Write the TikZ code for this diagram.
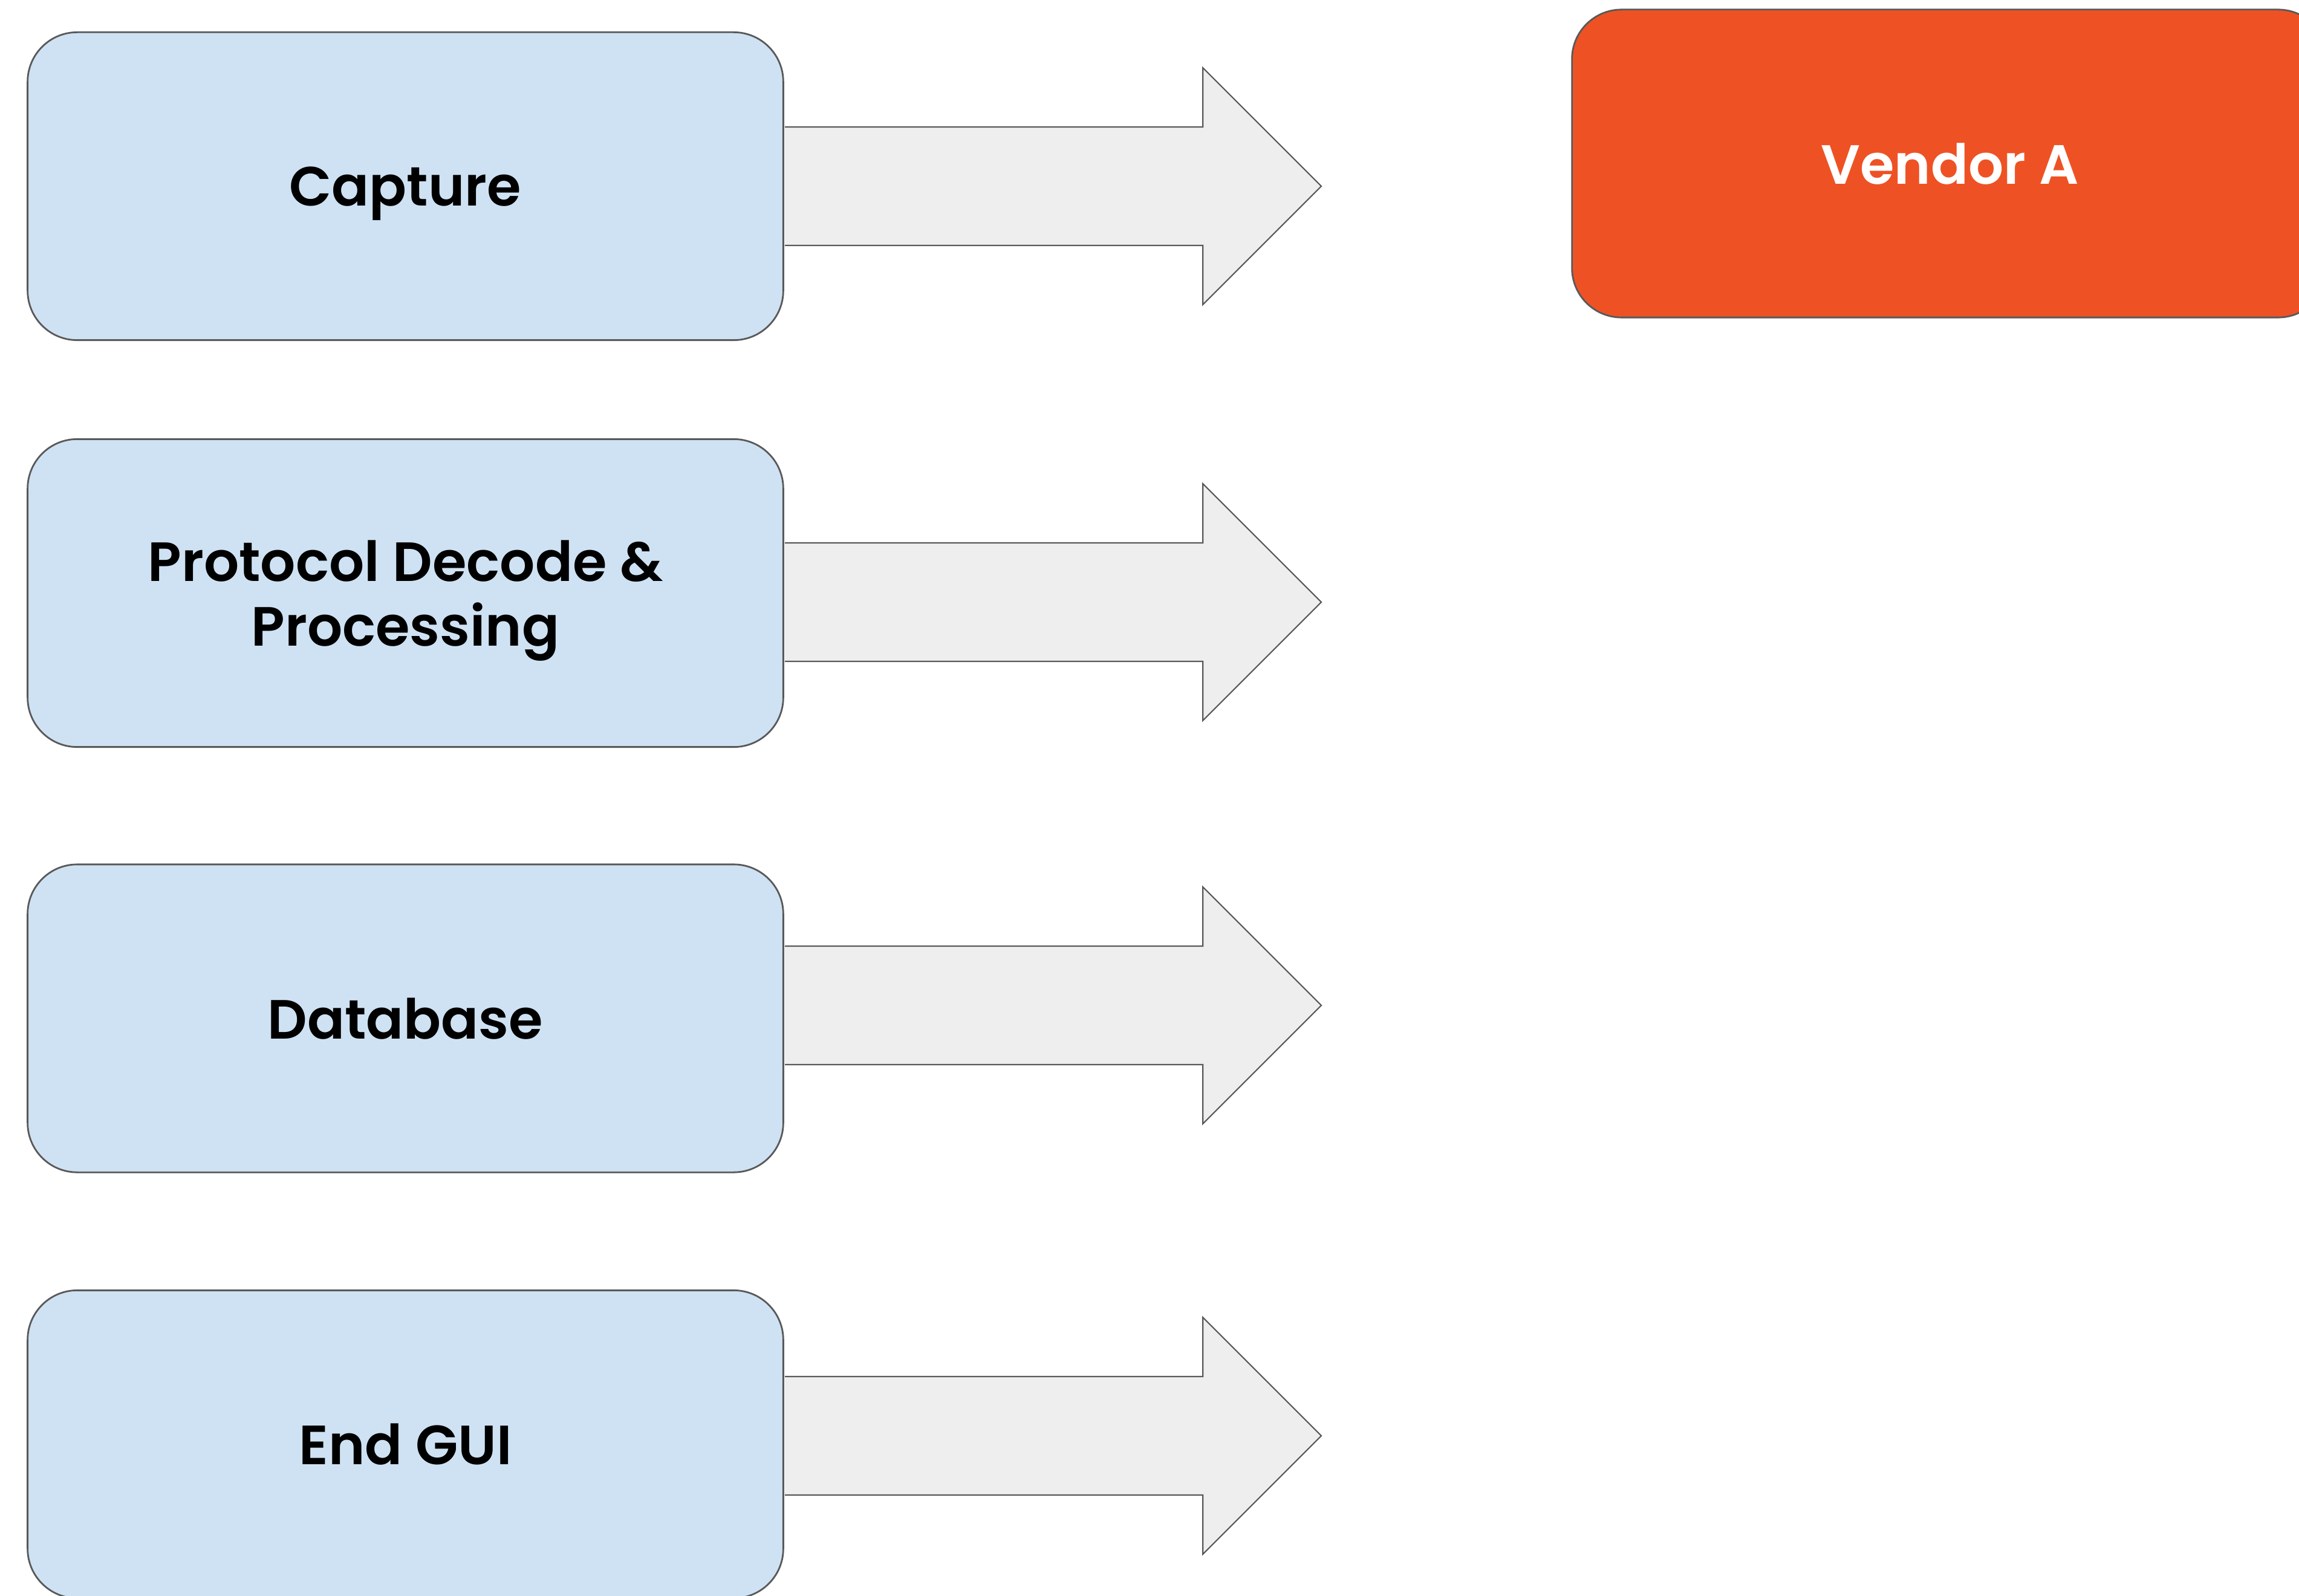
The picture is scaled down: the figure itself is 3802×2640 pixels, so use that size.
\documentclass[tikz,border=0pt]{standalone}
\usepackage{fontspec}
\newfontfamily\stagefont{Poppins SemiBold}
\usetikzlibrary{positioning}

\definecolor{stageblue}{RGB}{207,226,243}
\definecolor{vendororange}{RGB}{238,82,36}
\definecolor{arrowgray}{RGB}{238,238,238}
\definecolor{edgegray}{RGB}{89,89,89}

\tikzset{
    stage/.style={draw=edgegray, line width=0.8pt, fill=stageblue, rounded corners=0.82cm,
        minimum width=12.49cm, minimum height=5.09cm, align=center, inner sep=0pt, text depth=0pt,
        font=\stagefont\fontsize{26}{30.4}\selectfont},
    vendor/.style={stage, fill=vendororange, text=white},
    blockarrow/.style={draw=edgegray, line width=0.6pt, fill=arrowgray, line join=miter}
}

\begin{document}
\begin{tikzpicture}[x=0.01cm,y=-0.01cm]
        % page frame
        \useasboundingbox (0,0) rectangle (3802,2640);
        \clip (0,0) rectangle (3802,2640);

        % the four stages
        \node[stage] (capture) at (670.5,308) {Capture};
        \node[stage] (decode) at (670.5,981) {Protocol Decode \&\\Processing};
        \node[stage] (database) at (670.5,1684.5) {Database};
        \node[stage] (gui) at (670.5,2389) {End GUI};

        % vendor box, runs off the right edge
        \node[vendor] (vendorA) at (3224.5,270.5) {Vendor A};

        % block arrows out of each stage
        \foreach \name/\dy in {capture/0, decode/-0.15, database/0.215, gui/0.14} {
            \fill[arrowgray] ([xshift=0.4pt,yshift=\dy cm]\name.east) ++(0,-98) -- ++(691,0) -- ++(0,-98)
                -- ++(196,196) -- ++(-196,196) -- ++(0,-98) -- ++(-691,0) -- cycle;
            \draw[blockarrow, fill=none] ([xshift=0.4pt,yshift=\dy cm]\name.east) ++(0,-98) -- ++(691,0) -- ++(0,-98)
                -- ++(196,196) -- ++(-196,196) -- ++(0,-98) -- ++(-691,0);
        }
\end{tikzpicture}
\end{document}
